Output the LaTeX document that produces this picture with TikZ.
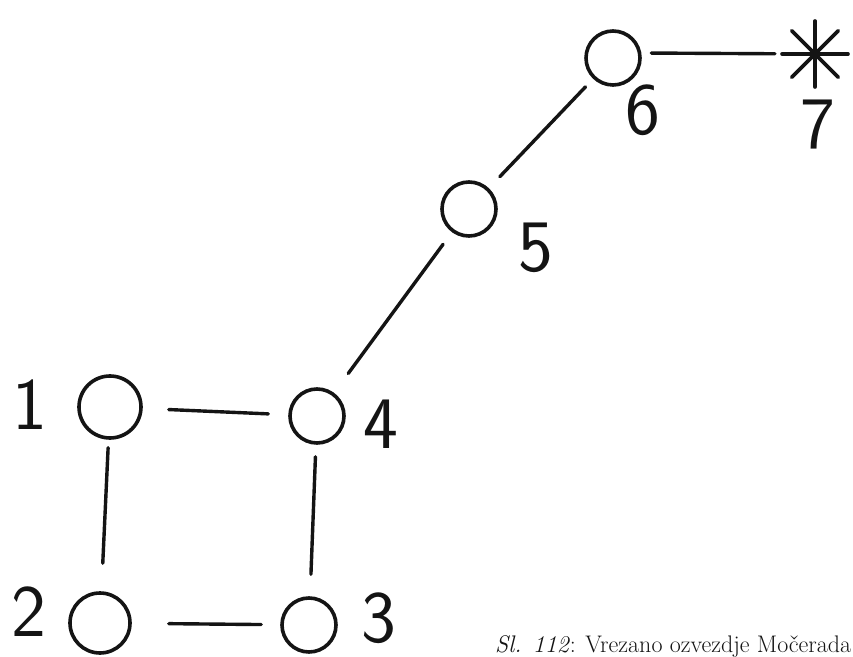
\documentclass[tikz,border=0pt]{standalone}
\usepackage{tikz}
\usetikzlibrary{calc,positioning}
\definecolor{ink}{HTML}{141414}
\definecolor{paper}{HTML}{FFFFFF}
\tikzset{
  star_node/.style={
    circle,
    draw=ink,
    line width=3.6pt,
    fill=paper,
    inner sep=0pt,
    minimum size=54pt
  },
  big_star/.style={star_node, minimum size=62pt},
  link/.style={
    draw=ink,
    line width=3.4pt,
    line cap=round
  },
  numlabel/.style={
    font=\fontsize{74}{74}\selectfont\sffamily,
    text=ink,
    inner sep=0pt
  },
  caption/.style={
    font=\fontsize{24}{27}\selectfont,
    text=ink,
    inner sep=0pt
  }
}

\begin{document}
\begin{tikzpicture}[x=1pt,y=1pt]

  \useasboundingbox[fill=paper] (0, 0) rectangle (853, 656);

  % ============================================================
  % Stars of the constellation (circles) and the bright star 7
  % ============================================================
  \node[big_star] (st1) at (110, 249) {};
  \node[big_star, minimum size=60pt] (st2) at (100, 33) {};
  \node[star_node] (st3) at (309, 31) {};
  \node[star_node] (st4) at (317, 240) {};
  \node[star_node] (st5) at (469, 447) {};
  \node[star_node] (st6) at (613, 598) {};
  \coordinate (st7) at (815, 602);

  % asterisk for star 7
  \foreach \ang in {0, 45, 90, 135} {
    \draw[link, line width=3.6pt]
         ($(st7)+(\ang:33)$) -- ($(st7)+(\ang+180:33)$);
  }

  % ============================================================
  % Connecting lines (hand drawn, with gaps at the circles)
  % ============================================================
  \draw[link, shorten <=26pt, shorten >=20pt] (st1) -- (st4);
  \draw[link, shorten <=8pt,  shorten >=28pt] (st1) -- (st2);
  \draw[link, shorten <=12pt, shorten >=22pt] (st4) -- (st3);
  \draw[link, shorten <=37pt, shorten >=19pt] (st2) -- (st3);
  \draw[link, shorten <=24pt, shorten >=15pt] (st4) -- (st5);
  \draw[link, shorten <=16pt, shorten >=11pt] (st5) -- (st6);
  \draw[link, shorten <=10pt, shorten >=40pt] (st6.10) -- (st7);

  % ============================================================
  % Numbers
  % ============================================================
  \node[numlabel] (num1) at (30, 251) {1};
  \node[numlabel] (num2) at (29, 44) {2};
  \node[numlabel] (num3) at (379, 38) {3};
  \node[numlabel] (num4) at (381, 232) {4};
  \node[numlabel] (num5) at (536, 408) {5};
  \node[numlabel] (num6) at (643, 546) {6};
  \node[numlabel] (num7) at (818, 531) {7};

  % Caption at the bottom right
  \node[caption, anchor=base west] (cap) at (495, 4)
       {\textit{Sl. 112}: Vrezano ozvezdje Močerada};

\end{tikzpicture}
\end{document}
